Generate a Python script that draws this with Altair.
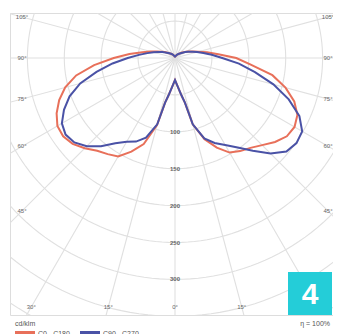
import altair as alt
import numpy as np
import pandas as pd

# ---- data (cd/klm) ----
angles = [0, 5, 10, 12.5, 15, 20, 25, 30, 35, 40, 45, 50, 55, 60, 65, 70, 75, 80,
          85, 90, 95, 100, 105, 110, 115, 120, 130, 140, 150, 160, 170, 180]
c180 = [30, 38, 52, 62, 94, 124, 140, 154, 159, 164, 173, 181, 185, 184, 177, 167, 154, 136,
        110, 83, 62, 45, 34, 26, 20, 16, 10, 7, 5, 3, 2, 1]
c0 = [30, 38, 52, 62, 93, 117, 134, 148, 154, 159, 167, 177, 185, 187, 183, 172, 155, 134,
      103, 83, 59, 44, 33, 26, 21, 17, 11, 7, 5, 3, 2, 1]
c270 = [30, 38, 52, 62, 93, 115, 125, 131, 141, 156, 169, 178, 181, 177, 166, 152, 133, 108,
        85, 64, 49, 38, 30, 24, 19, 15, 10, 7, 5, 3, 2, 1]
c90 = [30, 38, 52, 62, 93, 116, 127, 136, 148, 164, 183, 197, 201, 199, 186, 164, 138, 110,
       87, 64, 50, 39, 31, 25, 20, 16, 10, 7, 5, 3, 2, 1]

series_names = ["C0 - C180", "C90 - C270"]
series_colors = ["#e8705a", "#4a52a6"]

rings = [50, 100, 150, 200, 250, 300, 350, 400, 450]
ring_labels = [100, 150, 200, 250, 300]
spoke_angles = list(range(0, 360, 15))
side_label_angles = [105, 90, 75, 60, 45]
bottom_label_angles = [-30, -15, 0, 15]   # the +30° label sits under the badge

# ---- geometry of the drawing ----
K = 0.738            # px per cd/klm
W, H = 323, 302      # plot (frame) size in px
CX, CY = 165, 45     # pole position inside the frame, px
xdom = [-CX / K, (W - CX) / K]
ydom = [-(H - CY) / K, CY / K]
xs = alt.Scale(domain=xdom, nice=False, zero=False)
ys = alt.Scale(domain=ydom, nice=False, zero=False)


def pol(a_deg, r):
    t = np.radians(a_deg)
    return r * np.sin(t), -r * np.cos(t)


# curves
rows = []
for name, left, right in [(series_names[0], c180, c0), (series_names[1], c270, c90)]:
    k = 0
    for a, v in zip(reversed(angles), reversed(left)):
        x, y = pol(a, v)
        rows.append({"s": name, "o": k, "x": -x, "y": y}); k += 1
    for a, v in zip(angles, right):
        x, y = pol(a, v)
        rows.append({"s": name, "o": k, "x": x, "y": y}); k += 1
curves = pd.DataFrame(rows)

# rings
rr = []
for r in rings:
    for i, a in enumerate(np.arange(0, 361, 2)):
        x, y = pol(a, r)
        rr.append({"r": r, "o": i, "x": x, "y": y})
ring_df = pd.DataFrame(rr)

# spokes
sp = []
for a in spoke_angles:
    x, y = pol(a, 600)
    sp.append({"a": a, "x": 0.0, "y": 0.0, "x2": x, "y2": y})
spoke_df = pd.DataFrame(sp)

lab_df = pd.DataFrame({"x": [0.0] * len(ring_labels), "y": [-v for v in ring_labels],
                       "t": [str(v) for v in ring_labels]})

side = []
xu = 153 / K
for a in side_label_angles:
    yu = -xu / np.tan(np.radians(a)) if a != 90 else 0.0
    for sgn in (-1, 1):
        side.append({"x": sgn * xu, "y": yu, "t": f"{a}°"})
yb = -(H - CY - 8) / K
for a in bottom_label_angles:
    side.append({"x": -yb * np.tan(np.radians(a)), "y": yb, "t": f"{abs(a)}°"})
ang_df = pd.DataFrame(side)

base = alt.Chart(curves)
enc_xy = dict(x=alt.X("x:Q", scale=xs, axis=None), y=alt.Y("y:Q", scale=ys, axis=None))

grid_c = alt.Chart(ring_df).mark_line(clip=True, color="#e0e0e0", strokeWidth=1.1).encode(
    detail="r:N", order="o:Q", **enc_xy)
grid_s = alt.Chart(spoke_df).mark_rule(clip=True, color="#e0e0e0", strokeWidth=1.1).encode(
    x2="x2:Q", y2="y2:Q", **enc_xy)
rlab = alt.Chart(lab_df).mark_text(fontSize=6, color="#666", font="Liberation Sans",
                                   fontWeight="bold").encode(text="t:N", **enc_xy)
alab = alt.Chart(ang_df).mark_text(fontSize=6, color="#666", font="Liberation Sans").encode(
    text="t:N", **enc_xy)
lines = base.mark_line(strokeWidth=2, clip=True).encode(
    detail="s:N", order="o:Q",
    color=alt.Color("s:N", scale=alt.Scale(domain=series_names, range=series_colors), legend=None),
    **enc_xy)

one = pd.DataFrame({"d": [0]})
badge = alt.Chart(one).mark_rect(color="#24cdd8").encode(
    x=alt.value(W - 45), x2=alt.value(W - 1), y=alt.value(259), y2=alt.value(302))
badge_t = alt.Chart(one).mark_text(text="4", color="white", fontSize=30, fontWeight="bold",
                                   font="Liberation Sans", baseline="middle").encode(
    x=alt.value(W - 23), y=alt.value(282))
unit_t = alt.Chart(one).mark_text(text="cd/klm", color="#555", fontSize=7, align="left",
                                  font="Liberation Sans").encode(x=alt.value(5), y=alt.value(311))
eta_t = alt.Chart(one).mark_text(text="η = 100%", color="#555", fontSize=7, align="right",
                                 font="Liberation Sans").encode(x=alt.value(W - 3), y=alt.value(311))
leg_df = pd.DataFrame({"s": series_names, "x": [5, 70], "x2": [25, 90], "tx": [28, 93]})
leg_r = alt.Chart(leg_df).mark_rect().encode(
    x=alt.X("x:Q", scale=None), x2="x2:Q", y=alt.value(318), y2=alt.value(325),
    color=alt.Color("s:N", scale=alt.Scale(domain=series_names, range=series_colors), legend=None))
leg_t = alt.Chart(leg_df).mark_text(fontSize=7, color="#555", align="left", baseline="middle",
                                    font="Liberation Sans").encode(
    x=alt.X("tx:Q", scale=None), y=alt.value(321), text="s:N")

chart = alt.layer(grid_c, grid_s, rlab, alab, lines, badge, badge_t, unit_t, eta_t, leg_r, leg_t).properties(
    width=W, height=H, autosize=alt.AutoSizeParams(type="none"),
    padding={"left": 2, "top": 5, "right": 0, "bottom": 19},
).configure_view(stroke="#a9a9a9", strokeWidth=1.5).configure(background="white")

chart.save("out.html", embed_options={"renderer": "svg", "actions": False})
